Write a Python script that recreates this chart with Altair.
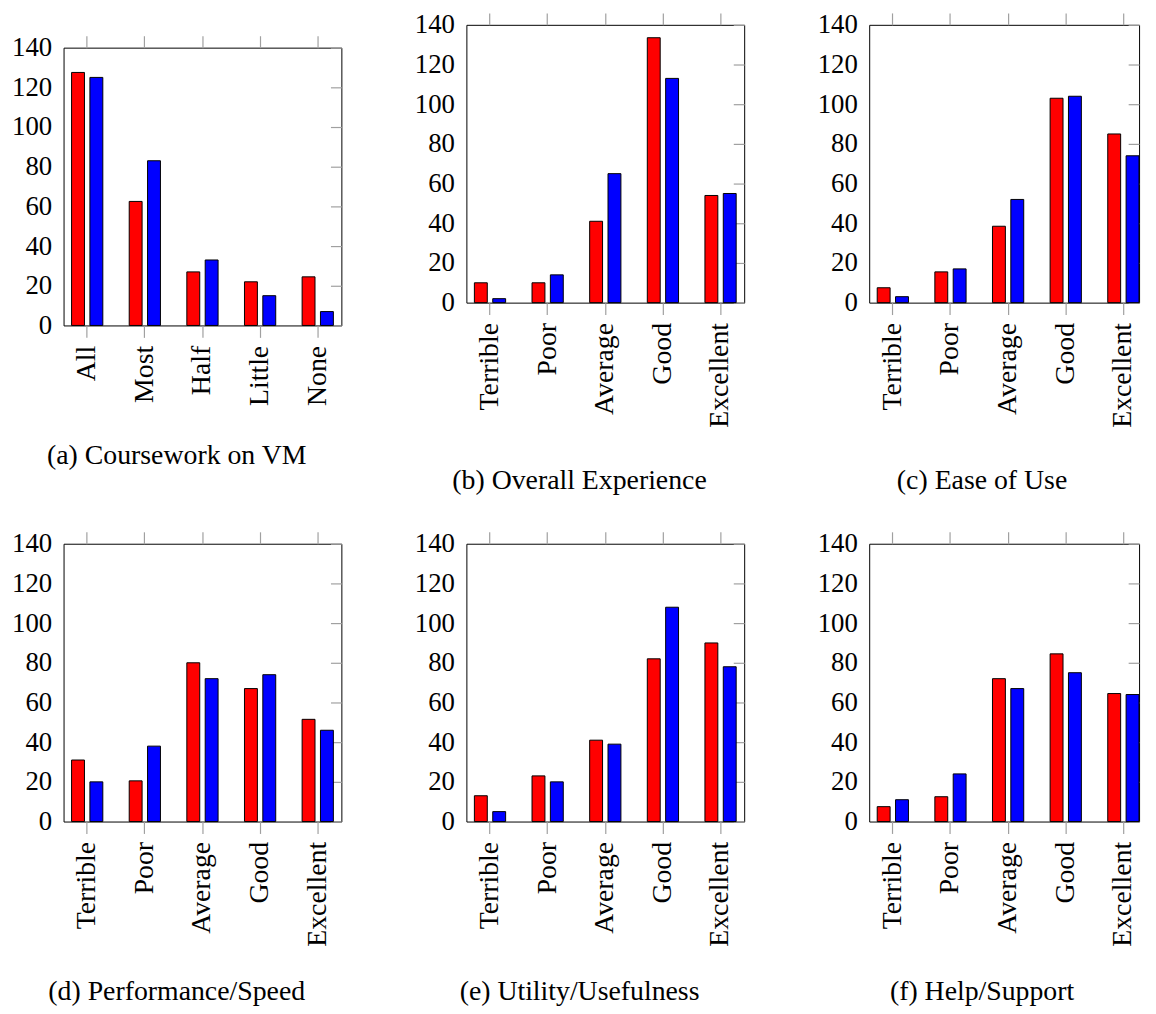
import altair as alt
import pandas as pd

# ---------------- data ----------------
series = ["Series 1", "Series 2"]
series_colors = ["#ff0000", "#0000ff"]

cats_a = ["All", "Most", "Half", "Little", "None"]
cats_q = ["Terrible", "Poor", "Average", "Good", "Excellent"]
y_ticks = [0, 20, 40, 60, 80, 100, 120, 140]

a_red = [127.5, 62.5, 27, 22, 24.5]
a_blue = [125, 83, 33, 15, 7]
b_red = [10, 10, 41, 133.5, 54]
b_blue = [2, 14, 65, 113, 55]
c_red = [7.5, 15.5, 38.5, 103, 85]
c_blue = [3, 17, 52, 104, 74]
d_red = [31, 20.5, 80, 67, 51.5]
d_blue = [20, 38, 72, 74, 46]
e_red = [13, 23, 41, 82, 90]
e_blue = [5, 20, 39, 108, 78]
f_red = [7.5, 12.5, 72, 84.5, 64.5]
f_blue = [11, 24, 67, 75, 64]

cap_a = "(a) Coursework on VM"
cap_b = "(b) Overall Experience"
cap_c = "(c) Ease of Use"
cap_d = "(d) Performance/Speed"
cap_e = "(e) Utility/Usefulness"
cap_f = "(f) Help/Support"

# ---------------- style ----------------
FONT = "Liberation Serif"
TICK = "#a0a0a0"


def panel(cats, red, blue, caption, cap_offset, view_width=280):
    df = pd.DataFrame({
        "cat": list(cats) * 2,
        "series": [series[0]] * len(cats) + [series[1]] * len(cats),
        "value": list(red) + list(blue),
    })
    xscale = alt.Scale(domain=cats, paddingInner=0.2, paddingOuter=0.01, range=[0, 280])
    yscale = alt.Scale(domain=[0, 140], nice=False, zero=True)
    oscale = alt.Scale(domain=series, paddingInner=0.297, paddingOuter=0.405)
    base = alt.Chart(df)

    bars = base.mark_bar(stroke="black", strokeWidth=1).encode(
        x=alt.X("cat:N", sort=cats, scale=xscale,
                axis=alt.Axis(orient="bottom", title=None, labelAngle=270,
                              labelFontSize=28, labelPadding=8,
                              ticks=True, tickSize=12, tickColor=TICK, tickWidth=1.2,
                              domain=False, grid=False)),
        y=alt.Y("value:Q", scale=yscale,
                axis=alt.Axis(orient="left", title=None, values=y_ticks,
                              labelFontSize=27, labelPadding=12,
                              ticks=False, domain=False, grid=False)),
        xOffset=alt.XOffset("series:N", sort=series, scale=oscale),
        color=alt.Color("series:N", scale=alt.Scale(domain=series, range=series_colors),
                        legend=None),
    )

    guides = base.mark_bar(opacity=0).encode(
        x=alt.X("cat:N", sort=cats, scale=xscale,
                axis=alt.Axis(orient="top", labels=False, ticks=True, tickSize=12,
                              tickColor=TICK, tickWidth=1.2, domain=False, grid=False,
                              title=None)),
        y=alt.Y("value:Q", scale=yscale,
                axis=alt.Axis(orient="right", labels=False, values=y_ticks,
                              ticks=True, tickSize=11, offset=-11, tickColor=TICK,
                              tickWidth=1.2, domain=False, grid=False, title=None)),
        xOffset=alt.XOffset("series:N", sort=series, scale=oscale),
    )

    return alt.layer(bars, guides).resolve_axis(
        x="independent", y="independent"
    ).properties(
        width=view_width, height=280,
        title=alt.TitleParams(caption, orient="bottom", anchor="middle", frame="bounds",
                              font=FONT, fontSize=28, fontWeight="normal",
                              color="black", offset=cap_offset),
    )


pa = panel(cats_a, a_red, a_blue, cap_a, 37)
pb = panel(cats_q, b_red, b_blue, cap_b, 40)
pc = panel(cats_q, c_red, c_blue, cap_c, 40, view_width=272)
pd_ = panel(cats_q, d_red, d_blue, cap_d, 32)
pe = panel(cats_q, e_red, e_blue, cap_e, 32)
pf = panel(cats_q, f_red, f_blue, cap_f, 32, view_width=272)

# small invisible spacer that lowers panel (a) relative to (b) and (c)
spacer = alt.Chart(pd.DataFrame({"v": [0]})).mark_rule(opacity=0, strokeWidth=0).encode(
    x=alt.value(0), x2=alt.value(1), y=alt.value(0)
).properties(width=1, height=1, view=alt.ViewBackground(strokeOpacity=0))

col1 = alt.vconcat(alt.vconcat(spacer, pa, spacing=7), pd_, spacing=58)
col2 = alt.vconcat(pb, pe, spacing=33)
col3 = alt.vconcat(pc, pf, spacing=33)

chart = alt.hconcat(col1, col2, col3, spacing=71).properties(
    padding={"left": 3, "top": -2, "right": 0, "bottom": 0},
    background="white",
).configure_view(
    stroke="black", strokeWidth=1
).configure_axis(
    labelFont=FONT, labelColor="black", titleFont=FONT
)

chart.save("out.html", embed_options={"renderer": "svg", "actions": False})
